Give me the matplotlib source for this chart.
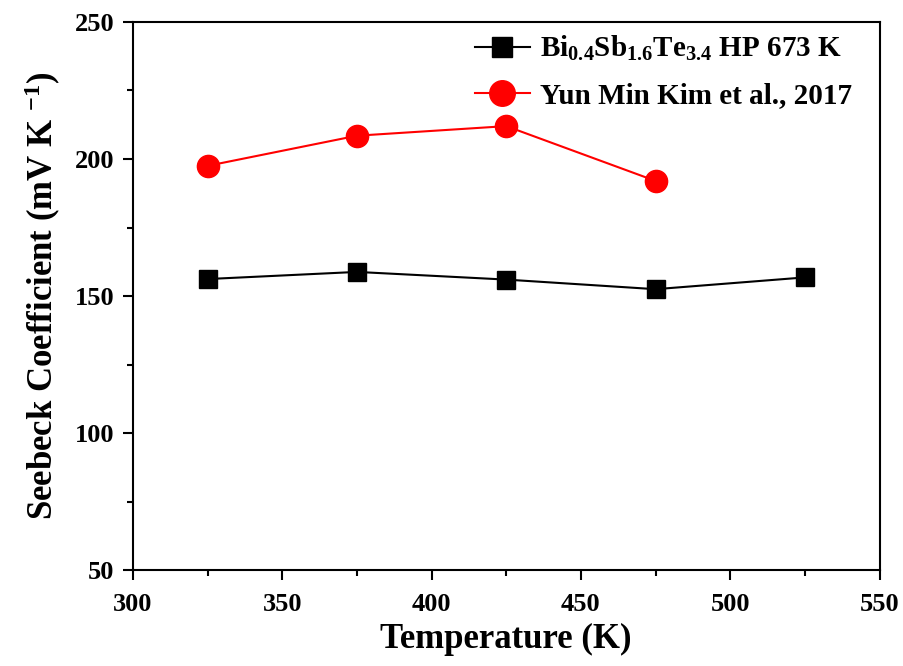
import numpy as np
import matplotlib
matplotlib.use("Agg")
import matplotlib.pyplot as plt
from matplotlib.ticker import MultipleLocator

plt.rcParams["font.family"] = "Liberation Serif"
plt.rcParams["font.weight"] = "bold"
plt.rcParams["mathtext.fontset"] = "custom"
plt.rcParams["mathtext.rm"] = "Liberation Serif:bold"
plt.rcParams["mathtext.bf"] = "Liberation Serif:bold"
plt.rcParams["mathtext.it"] = "Liberation Serif:bold"

# data
temp_bst = [325, 375, 425, 475, 525]
seebeck_bst = [156.2, 158.8, 156.0, 152.5, 156.8]

temp_kim = [325, 375, 425, 475]
seebeck_kim = [197.5, 208.5, 212.0, 192.0]

label_bst = r"Bi$_{0.4}$Sb$_{1.6}$Te$_{3.4}$ HP 673 K"
label_kim = "Yun Min Kim et al., 2017"

fig = plt.figure(figsize=(9.04, 6.66), dpi=100)
ax = fig.add_axes([0.147, 0.144, 0.826, 0.823])

ax.plot(temp_bst, seebeck_bst, "k-", marker="s", markersize=13, linewidth=1.5,
        label=label_bst)
ax.plot(temp_kim, seebeck_kim, "r-", marker="o", markersize=16, linewidth=1.5,
        label=label_kim)

ax.set_xlim(300, 550)
ax.set_ylim(50, 250)
ax.xaxis.set_major_locator(MultipleLocator(50))
ax.xaxis.set_minor_locator(MultipleLocator(25))
ax.yaxis.set_major_locator(MultipleLocator(50))
ax.yaxis.set_minor_locator(MultipleLocator(25))
ax.tick_params(which="major", direction="out", length=7.5, width=1.5, labelsize=19)
ax.tick_params(which="minor", direction="out", length=4, width=1.5)
ax.tick_params(axis="x", which="major", pad=9)
ax.tick_params(axis="y", which="major", pad=6)
for s in ax.spines.values():
    s.set_linewidth(1.5)

ax.set_xlabel("Temperature (K)", fontsize=25, fontweight="bold", labelpad=5)
ax.set_ylabel(r"Seebeck Coefficient (mV K $^{-1}$)", fontsize=25,
              fontweight="bold", labelpad=8)

ax.legend(loc="upper left", bbox_to_anchor=(0.442, 0.999), frameon=False,
          fontsize=21, handlelength=1.9, labelspacing=0.65, borderaxespad=0,
          handletextpad=0.35, markerscale=1.15)

fig.savefig("out.png", dpi=100)
